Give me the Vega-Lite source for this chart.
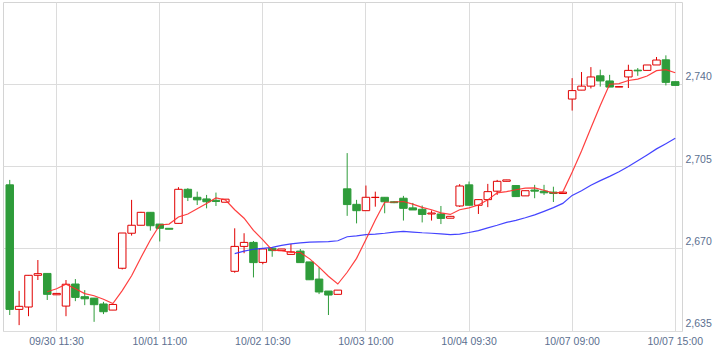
{
  "$schema": "https://vega.github.io/schema/vega-lite/v6.json",
  "autosize": "none",
  "width": 679,
  "height": 329,
  "padding": {"left": 3, "top": 2, "right": 40, "bottom": 20},
  "background": "#ffffff",
  "config": {
    "view": {"stroke": "#d4d4d4", "strokeWidth": 1},
    "axis": {"labelFont": "Liberation Sans", "labelFontSize": 10.5, "labelColor": "#5c7090", "gridColor": "#dcdcdc", "gridWidth": 1, "ticks": false, "domain": false, "title": null}
  },
  "data": {"values": [
    {"t":"09/30 09:00","o":2697.0,"h":2699.1,"l":2641.6,"c":2644.0,"ma5":null,"ma25":null},
    {"t":"09/30 09:30","o":2644.0,"h":2651.9,"l":2637.3,"c":2645.3,"ma5":null,"ma25":null},
    {"t":"09/30 10:00","o":2645.0,"h":2658.6,"l":2641.1,"c":2658.5,"ma5":null,"ma25":null},
    {"t":"09/30 10:30","o":2658.5,"h":2665.0,"l":2656.5,"c":2659.2,"ma5":null,"ma25":null},
    {"t":"09/30 11:00","o":2659.3,"h":2659.3,"l":2648.0,"c":2650.4,"ma5":2651.5,"ma25":null},
    {"t":"09/30 11:30","o":2650.2,"h":2650.8,"l":2650.2,"c":2650.8,"ma5":2652.8,"ma25":null},
    {"t":"09/30 12:30","o":2645.4,"h":2656.5,"l":2641.1,"c":2654.7,"ma5":2654.7,"ma25":null},
    {"t":"09/30 13:00","o":2654.8,"h":2656.9,"l":2647.5,"c":2649.1,"ma5":2652.8,"ma25":null},
    {"t":"09/30 13:30","o":2649.4,"h":2652.2,"l":2645.8,"c":2648.5,"ma5":2650.7,"ma25":null},
    {"t":"09/30 14:00","o":2648.8,"h":2648.8,"l":2638.7,"c":2646.0,"ma5":2649.8,"ma25":null},
    {"t":"09/30 14:30","o":2646.3,"h":2647.2,"l":2642.0,"c":2643.0,"ma5":2648.3,"ma25":null},
    {"t":"09/30 15:00","o":2643.7,"h":2646.1,"l":2643.7,"c":2646.1,"ma5":2646.5,"ma25":null},
    {"t":"10/01 09:00","o":2661.5,"h":2676.5,"l":2661.0,"c":2676.5,"ma5":2652.0,"ma25":null},
    {"t":"10/01 09:30","o":2676.4,"h":2690.6,"l":2675.4,"c":2679.8,"ma5":2658.3,"ma25":null},
    {"t":"10/01 10:00","o":2679.8,"h":2685.5,"l":2679.8,"c":2685.3,"ma5":2666.1,"ma25":null},
    {"t":"10/01 10:30","o":2685.3,"h":2685.3,"l":2677.5,"c":2679.6,"ma5":2673.5,"ma25":null},
    {"t":"10/01 11:00","o":2680.3,"h":2680.3,"l":2672.9,"c":2678.5,"ma5":2679.9,"ma25":null},
    {"t":"10/01 11:30","o":2678.5,"h":2678.5,"l":2678.1,"c":2678.1,"ma5":2680.3,"ma25":null},
    {"t":"10/01 12:30","o":2680.6,"h":2696.0,"l":2680.6,"c":2695.1,"ma5":2683.3,"ma25":null},
    {"t":"10/01 13:00","o":2695.1,"h":2695.6,"l":2690.1,"c":2691.7,"ma5":2684.6,"ma25":null},
    {"t":"10/01 13:30","o":2691.7,"h":2694.1,"l":2688.4,"c":2690.6,"ma5":2686.8,"ma25":null},
    {"t":"10/01 14:00","o":2691.0,"h":2692.7,"l":2687.0,"c":2689.8,"ma5":2689.1,"ma25":null},
    {"t":"10/01 14:30","o":2690.4,"h":2693.7,"l":2688.0,"c":2689.9,"ma5":2691.4,"ma25":null},
    {"t":"10/01 15:00","o":2689.6,"h":2690.9,"l":2689.6,"c":2690.9,"ma5":2690.6,"ma25":null},
    {"t":"10/02 09:00","o":2660.2,"h":2678.5,"l":2659.6,"c":2670.8,"ma5":2686.4,"ma25":2667.7},
    {"t":"10/02 09:30","o":2670.8,"h":2676.4,"l":2667.9,"c":2672.5,"ma5":2682.8,"ma25":2668.8},
    {"t":"10/02 10:00","o":2672.5,"h":2673.1,"l":2657.6,"c":2663.9,"ma5":2677.6,"ma25":2669.6},
    {"t":"10/02 10:30","o":2664.0,"h":2669.7,"l":2663.2,"c":2669.7,"ma5":2673.6,"ma25":2670.0},
    {"t":"10/02 11:00","o":2670.0,"h":2670.0,"l":2666.4,"c":2669.0,"ma5":2669.2,"ma25":2670.4},
    {"t":"10/02 11:30","o":2669.0,"h":2669.7,"l":2669.0,"c":2669.7,"ma5":2669.0,"ma25":2671.2},
    {"t":"10/02 12:30","o":2667.4,"h":2671.8,"l":2667.4,"c":2668.5,"ma5":2668.2,"ma25":2671.9},
    {"t":"10/02 13:00","o":2668.8,"h":2669.7,"l":2663.9,"c":2663.9,"ma5":2668.2,"ma25":2672.3},
    {"t":"10/02 13:30","o":2664.2,"h":2664.2,"l":2656.6,"c":2656.6,"ma5":2665.5,"ma25":2672.6},
    {"t":"10/02 14:00","o":2656.9,"h":2661.9,"l":2650.5,"c":2651.4,"ma5":2662.0,"ma25":2672.7},
    {"t":"10/02 14:30","o":2651.8,"h":2651.8,"l":2641.6,"c":2650.1,"ma5":2658.1,"ma25":2672.8},
    {"t":"10/02 15:00","o":2650.4,"h":2652.2,"l":2650.4,"c":2652.2,"ma5":2654.8,"ma25":2673.2},
    {"t":"10/03 09:00","o":2695.3,"h":2710.5,"l":2683.8,"c":2688.6,"ma5":2659.8,"ma25":2674.9},
    {"t":"10/03 09:30","o":2688.7,"h":2690.6,"l":2680.6,"c":2686.0,"ma5":2665.7,"ma25":2675.3},
    {"t":"10/03 10:00","o":2686.0,"h":2696.7,"l":2686.0,"c":2691.7,"ma5":2673.7,"ma25":2675.8},
    {"t":"10/03 10:30","o":2691.6,"h":2694.1,"l":2687.7,"c":2691.7,"ma5":2682.0,"ma25":2676.0},
    {"t":"10/03 11:00","o":2691.7,"h":2691.7,"l":2684.9,"c":2689.8,"ma5":2689.6,"ma25":2676.4},
    {"t":"10/03 11:30","o":2689.8,"h":2690.0,"l":2689.2,"c":2689.4,"ma5":2689.7,"ma25":2676.9},
    {"t":"10/03 12:30","o":2691.3,"h":2692.3,"l":2681.8,"c":2687.0,"ma5":2689.9,"ma25":2677.2},
    {"t":"10/03 13:00","o":2687.2,"h":2689.3,"l":2686.3,"c":2686.3,"ma5":2688.8,"ma25":2676.9},
    {"t":"10/03 13:30","o":2686.6,"h":2688.2,"l":2681.0,"c":2684.4,"ma5":2687.4,"ma25":2676.6},
    {"t":"10/03 14:00","o":2684.6,"h":2686.1,"l":2681.8,"c":2685.0,"ma5":2686.4,"ma25":2676.4},
    {"t":"10/03 14:30","o":2684.6,"h":2688.0,"l":2680.3,"c":2682.7,"ma5":2685.1,"ma25":2676.1},
    {"t":"10/03 15:00","o":2682.8,"h":2683.6,"l":2682.8,"c":2683.6,"ma5":2684.4,"ma25":2675.8},
    {"t":"10/04 09:00","o":2688.0,"h":2697.3,"l":2687.6,"c":2696.5,"ma5":2686.4,"ma25":2676.0},
    {"t":"10/04 09:30","o":2697.0,"h":2698.4,"l":2688.3,"c":2688.3,"ma5":2687.2,"ma25":2676.7},
    {"t":"10/04 10:00","o":2688.3,"h":2690.7,"l":2684.6,"c":2690.7,"ma5":2688.4,"ma25":2677.5},
    {"t":"10/04 10:30","o":2690.7,"h":2697.4,"l":2687.5,"c":2694.1,"ma5":2690.6,"ma25":2678.7},
    {"t":"10/04 11:00","o":2694.3,"h":2699.1,"l":2692.7,"c":2698.5,"ma5":2693.6,"ma25":2679.8},
    {"t":"10/04 11:30","o":2698.5,"h":2699.1,"l":2698.5,"c":2699.1,"ma5":2694.1,"ma25":2681.0},
    {"t":"10/04 12:30","o":2696.7,"h":2696.7,"l":2692.0,"c":2692.0,"ma5":2694.9,"ma25":2681.9},
    {"t":"10/04 13:00","o":2692.3,"h":2694.5,"l":2692.3,"c":2694.5,"ma5":2695.6,"ma25":2683.0},
    {"t":"10/04 13:30","o":2694.8,"h":2697.0,"l":2691.3,"c":2694.3,"ma5":2695.7,"ma25":2684.2},
    {"t":"10/04 14:00","o":2694.3,"h":2697.0,"l":2692.7,"c":2693.6,"ma5":2694.7,"ma25":2685.7},
    {"t":"10/04 14:30","o":2693.9,"h":2696.2,"l":2689.7,"c":2693.3,"ma5":2693.5,"ma25":2687.3},
    {"t":"10/04 15:00","o":2693.3,"h":2693.9,"l":2693.3,"c":2693.9,"ma5":2693.9,"ma25":2689.1},
    {"t":"10/07 09:00","o":2733.5,"h":2742.4,"l":2728.6,"c":2737.1,"ma5":2702.4,"ma25":2692.5},
    {"t":"10/07 09:30","o":2737.3,"h":2745.0,"l":2737.3,"c":2739.0,"ma5":2711.4,"ma25":2694.5},
    {"t":"10/07 10:00","o":2739.0,"h":2747.1,"l":2738.0,"c":2742.9,"ma5":2721.2,"ma25":2696.8},
    {"t":"10/07 10:30","o":2743.4,"h":2746.0,"l":2738.8,"c":2741.2,"ma5":2730.8,"ma25":2698.8},
    {"t":"10/07 11:00","o":2741.2,"h":2743.8,"l":2738.6,"c":2738.6,"ma5":2739.8,"ma25":2700.6},
    {"t":"10/07 11:30","o":2738.6,"h":2738.8,"l":2738.6,"c":2738.8,"ma5":2740.1,"ma25":2702.6},
    {"t":"10/07 12:30","o":2742.9,"h":2748.1,"l":2738.2,"c":2745.7,"ma5":2741.4,"ma25":2704.8},
    {"t":"10/07 13:00","o":2745.8,"h":2746.7,"l":2743.4,"c":2745.5,"ma5":2742.0,"ma25":2707.2},
    {"t":"10/07 13:30","o":2745.7,"h":2748.0,"l":2745.7,"c":2748.0,"ma5":2743.3,"ma25":2709.7},
    {"t":"10/07 14:00","o":2748.0,"h":2751.4,"l":2748.0,"c":2750.1,"ma5":2745.6,"ma25":2712.3},
    {"t":"10/07 14:30","o":2750.2,"h":2752.1,"l":2739.3,"c":2740.6,"ma5":2746.0,"ma25":2714.5},
    {"t":"10/07 15:00","o":2740.9,"h":2740.9,"l":2739.3,"c":2739.3,"ma5":2744.7,"ma25":2716.8}
  ]},
  "encoding": {
    "x": {"field": "t", "type": "ordinal", "sort": null,
      "scale": {"paddingInner": 0, "paddingOuter": 0.22},
      "axis": {"values": ["09/30 11:30","10/01 11:00","10/02 10:30","10/03 10:00","10/04 09:30","10/07 09:00","10/07 15:00"],
        "labelAngle": 0, "labelPadding": 5, "labelOverlap": false, "labelBound": false, "labelFlush": false, "bandPosition": 0.5, "grid": true}}
  },
  "layer": [
    {
      "mark": {"type": "rule", "strokeWidth": 1},
      "encoding": {
        "y": {"field": "l", "type": "quantitative",
          "scale": {"domain": [2634.8, 2774.8], "zero": false, "nice": false},
          "axis": {"orient": "right", "values": [2635, 2670, 2705, 2740], "format": ",d", "labelPadding": 3, "labelAlign": "left", "labelBaseline": "middle", "labelOffset": -7, "grid": true}},
        "y2": {"field": "h"},
        "color": {"condition": {"test": "datum.c >= datum.o", "value": "#e00000"}, "value": "#2e9c3a"}
      }
    },
    {
      "mark": {"type": "bar", "width": 7.5, "strokeWidth": 1},
      "encoding": {
        "y": {"field": "o", "type": "quantitative"},
        "y2": {"field": "c"},
        "fill": {"condition": {"test": "datum.c >= datum.o", "value": "#ffffff"}, "value": "#2e9c3a"},
        "stroke": {"condition": {"test": "datum.c >= datum.o", "value": "#e00000"}, "value": "#2e9c3a"}
      }
    },
    {
      "transform": [{"filter": "isValid(datum.ma25)"}],
      "mark": {"type": "line", "color": "#3030ff", "strokeWidth": 1.2, "opacity": 0.9},
      "encoding": {"y": {"field": "ma25", "type": "quantitative"}}
    },
    {
      "transform": [{"filter": "isValid(datum.ma5)"}],
      "mark": {"type": "line", "color": "#ff2a2a", "strokeWidth": 1.2, "opacity": 0.9},
      "encoding": {"y": {"field": "ma5", "type": "quantitative"}}
    }
  ]
}
